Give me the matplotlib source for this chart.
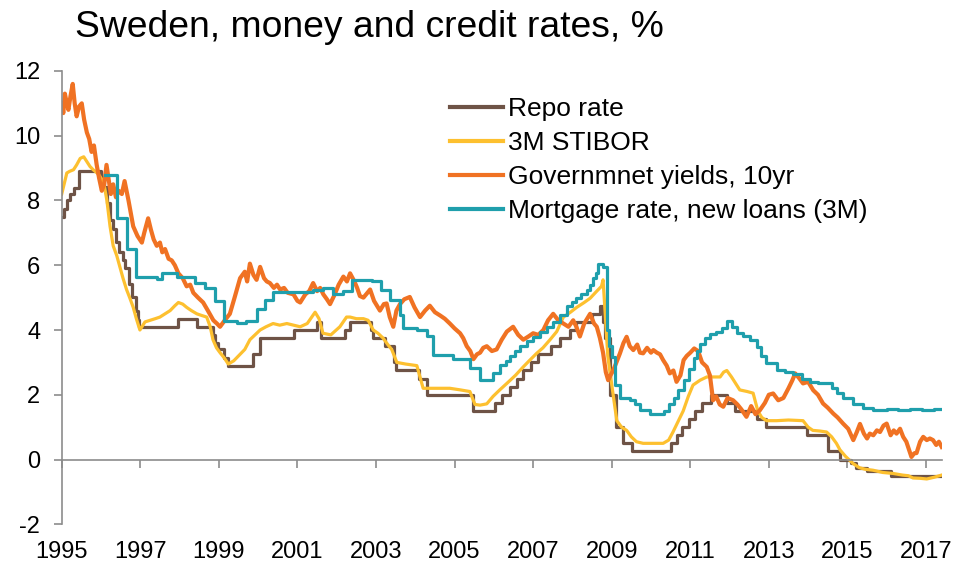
import matplotlib
matplotlib.use('Agg')
import matplotlib.pyplot as plt

plt.rcParams['font.family'] = ['Liberation Sans', 'DejaVu Sans']

# Repo rate, step changes (decimal year, %)
repo_t = [1995.0, 1995.07, 1995.13, 1995.2, 1995.3, 1995.45,
          1996.0, 1996.08, 1996.15, 1996.22, 1996.3, 1996.37, 1996.45, 1996.55,
          1996.62, 1996.7, 1996.8, 1996.88, 1996.93, 1996.97,
          1997.95, 1998.45, 1998.85, 1998.9, 1998.97, 1999.12, 1999.23,
          1999.88, 2000.05, 2000.9, 2001.49, 2001.6, 2002.22, 2002.33, 2002.87,
          2002.93, 2003.22, 2003.45, 2003.5, 2004.1, 2004.3, 2005.47,
          2006.03, 2006.2, 2006.4, 2006.6, 2006.75, 2006.95, 2007.12, 2007.45,
          2007.68, 2007.95, 2008.1, 2008.5, 2008.7, 2008.78, 2008.83, 2008.95,
          2009.12, 2009.3, 2009.52, 2010.52, 2010.67, 2010.8, 2010.96, 2011.13,
          2011.3, 2011.52, 2011.93, 2012.13, 2012.69, 2012.94, 2013.96, 2014.5,
          2014.8, 2015.1, 2015.22, 2015.5, 2016.12, 2017.4]
repo_v = [7.5, 7.75, 8.0, 8.2, 8.4, 8.9,
          8.66, 8.41, 7.91, 7.41, 7.11, 6.71, 6.41, 6.16,
          5.91, 5.41, 5.01, 4.6, 4.3, 4.1,
          4.35, 4.1, 3.85, 3.6, 3.4, 3.15, 2.9,
          3.25, 3.75, 4.0, 4.25, 3.75, 4.0, 4.25, 4.0,
          3.75, 3.5, 3.0, 2.75, 2.5, 2.0, 1.5,
          1.75, 2.0, 2.25, 2.5, 2.75, 3.0, 3.25, 3.5,
          3.75, 4.0, 4.25, 4.5, 4.75, 4.25, 3.75, 2.0,
          1.0, 0.5, 0.25, 0.5, 0.75, 1.0, 1.25, 1.5,
          1.75, 2.0, 1.75, 1.5, 1.25, 1.0, 0.75, 0.25,
          0.0, -0.1, -0.25, -0.35, -0.5, -0.5]

# 3M STIBOR
stibor_t = [1995.0, 1995.06, 1995.13, 1995.2, 1995.3, 1995.38, 1995.47, 1995.56,
            1995.64, 1995.72, 1995.8, 1995.9, 1995.97, 1996.07, 1996.15, 1996.23,
            1996.31, 1996.4, 1996.48, 1996.56, 1996.65, 1996.73, 1996.82, 1996.9,
            1996.99, 1997.12, 1997.25, 1997.38, 1997.5, 1997.63, 1997.76, 1997.88,
            1997.97, 1998.08, 1998.18, 1998.3, 1998.44, 1998.56, 1998.69, 1998.78,
            1998.85, 1998.94, 1999.03, 1999.13, 1999.24, 1999.38, 1999.54, 1999.66,
            1999.79, 1999.92, 2000.05, 2000.2, 2000.38, 2000.55, 2000.73, 2000.9,
            2001.07, 2001.25, 2001.45, 2001.55, 2001.65, 2001.85, 2002.08, 2002.25,
            2002.34, 2002.5, 2002.68, 2002.8, 2002.93, 2003.05, 2003.18, 2003.3,
            2003.4, 2003.53, 2003.75, 2004.04, 2004.12, 2004.2, 2004.5, 2004.88,
            2005.15, 2005.39, 2005.52, 2005.65, 2005.82, 2005.98, 2006.15, 2006.33,
            2006.55, 2006.74, 2006.9, 2007.09, 2007.25, 2007.43, 2007.6, 2007.77,
            2007.95, 2008.11, 2008.3, 2008.45, 2008.62, 2008.74, 2008.78, 2008.83,
            2008.9, 2008.95, 2009.05, 2009.13, 2009.25, 2009.38, 2009.5, 2009.63,
            2009.8, 2009.97, 2010.15, 2010.31, 2010.45, 2010.56, 2010.7, 2010.82,
            2010.95, 2011.07, 2011.25, 2011.42, 2011.6, 2011.76, 2011.85, 2011.93,
            2012.05, 2012.26, 2012.45, 2012.6, 2012.72, 2012.82, 2012.94, 2013.2,
            2013.5, 2013.87, 2014.0, 2014.12, 2014.3, 2014.47, 2014.6, 2014.72,
            2014.81, 2014.95, 2015.14, 2015.3, 2015.45, 2015.65, 2015.9, 2016.16,
            2016.4, 2016.55, 2016.67, 2016.85, 2017.02, 2017.2, 2017.4]
stibor_v = [8.2, 8.5, 8.85, 8.9, 8.95, 9.1, 9.3, 9.35,
            9.2, 9.05, 8.95, 8.85, 8.75, 8.55, 8.0, 7.2,
            6.6, 6.3, 5.95, 5.6, 5.25, 5.0, 4.7, 4.35,
            4.0, 4.25, 4.3, 4.35, 4.4, 4.5, 4.6, 4.75,
            4.85, 4.8, 4.7, 4.6, 4.5, 4.45, 4.4, 4.1,
            3.7, 3.45, 3.3, 3.15, 2.95, 3.05, 3.25, 3.4,
            3.7, 3.85, 4.0, 4.1, 4.2, 4.15, 4.2, 4.15,
            4.1, 4.2, 4.55, 4.35, 3.9, 3.85, 4.1, 4.4,
            4.4, 4.35, 4.35, 4.3, 4.0, 3.9, 3.75, 3.55,
            3.4, 3.0, 2.95, 2.9, 2.55, 2.2, 2.2, 2.2,
            2.15, 2.1, 1.7, 1.68, 1.72, 1.95, 2.15, 2.35,
            2.6, 2.85, 3.05, 3.28, 3.45, 3.7, 3.95, 4.4,
            4.55, 4.7, 4.85, 4.98, 5.2, 5.35, 5.55, 4.6,
            3.2, 2.75, 1.9, 1.2, 1.0, 0.9, 0.7, 0.55,
            0.5, 0.5, 0.5, 0.5, 0.6, 0.85, 1.2, 1.5,
            1.95, 2.3, 2.45, 2.55, 2.55, 2.55, 2.7, 2.75,
            2.55, 2.15, 2.1, 2.05, 1.5, 1.3, 1.2, 1.2,
            1.22, 1.2, 1.0, 0.9, 0.88, 0.85, 0.7, 0.5,
            0.3, 0.1, -0.12, -0.25, -0.3, -0.33, -0.4, -0.43,
            -0.48, -0.5, -0.57, -0.58, -0.6, -0.55, -0.48]

# Government yields, 10yr
gov_t = [1995.0, 1995.04, 1995.08, 1995.13, 1995.17, 1995.22, 1995.28, 1995.33,
         1995.38, 1995.44, 1995.51, 1995.57, 1995.64, 1995.7, 1995.76, 1995.82,
         1995.89, 1995.95, 1996.02, 1996.08, 1996.14, 1996.19, 1996.25, 1996.31,
         1996.38, 1996.45, 1996.53, 1996.6, 1996.7, 1996.76, 1996.82, 1996.93,
         1997.04, 1997.1, 1997.2, 1997.27, 1997.34, 1997.42, 1997.5, 1997.56,
         1997.63, 1997.72, 1997.8, 1997.88, 1997.97, 1998.08, 1998.18, 1998.27,
         1998.35, 1998.47, 1998.6, 1998.72, 1998.86, 1998.95, 1999.03, 1999.15,
         1999.28, 1999.4, 1999.54, 1999.66, 1999.72, 1999.79, 1999.88, 1999.96,
         2000.05, 2000.15, 2000.22, 2000.3, 2000.4, 2000.48, 2000.56, 2000.66,
         2000.75, 2000.9, 2001.0, 2001.07, 2001.2, 2001.3, 2001.4, 2001.5,
         2001.58, 2001.66, 2001.75, 2001.83, 2001.95, 2002.05, 2002.17, 2002.26,
         2002.34, 2002.45, 2002.52, 2002.59, 2002.68, 2002.85, 2002.95, 2003.1,
         2003.2, 2003.27, 2003.35, 2003.44, 2003.52, 2003.61, 2003.72, 2003.86,
         2003.98, 2004.12, 2004.25, 2004.37, 2004.5, 2004.63, 2004.75, 2004.88,
         2005.0, 2005.14, 2005.22, 2005.31, 2005.4, 2005.48, 2005.57, 2005.65,
         2005.73, 2005.82, 2005.95, 2006.07, 2006.2, 2006.33, 2006.49, 2006.62,
         2006.75, 2006.88, 2007.0, 2007.13, 2007.26, 2007.38, 2007.51, 2007.64,
         2007.77, 2007.9, 2008.02, 2008.1, 2008.19, 2008.3, 2008.45, 2008.55,
         2008.62, 2008.7, 2008.78, 2008.85, 2008.91, 2008.97, 2009.04, 2009.12,
         2009.21, 2009.3, 2009.38, 2009.46, 2009.55, 2009.65, 2009.72, 2009.8,
         2009.9, 2010.0, 2010.06, 2010.15, 2010.23, 2010.31, 2010.4, 2010.48,
         2010.57, 2010.65, 2010.75, 2010.83, 2010.91, 2011.0, 2011.1, 2011.2,
         2011.3, 2011.42, 2011.5, 2011.58, 2011.66, 2011.75, 2011.84, 2011.95,
         2012.09, 2012.2, 2012.3, 2012.43, 2012.55, 2012.66, 2012.77, 2012.9,
         2013.0, 2013.11, 2013.24, 2013.37, 2013.5, 2013.6, 2013.67, 2013.78,
         2013.87, 2014.0, 2014.13, 2014.25, 2014.38, 2014.5, 2014.64, 2014.75,
         2014.89, 2015.02, 2015.15, 2015.24, 2015.32, 2015.42, 2015.5, 2015.57,
         2015.66, 2015.75, 2015.83, 2015.92, 2016.0, 2016.1, 2016.18, 2016.25,
         2016.34, 2016.42, 2016.5, 2016.57, 2016.63, 2016.7, 2016.76, 2016.85,
         2016.93, 2017.02, 2017.1, 2017.18, 2017.26, 2017.33, 2017.4]
gov_v = [11.0, 10.7, 11.3, 11.0, 10.8, 11.2, 11.6, 11.0,
         10.6, 10.9, 11.0, 10.5, 10.1, 9.9, 9.5, 9.7,
         9.1, 8.7, 8.3, 8.5, 9.1, 8.7, 8.2, 8.5,
         8.1, 8.3, 8.2, 8.6, 8.0, 7.6, 7.2, 6.9,
         6.7, 7.0, 7.45, 7.1, 6.8, 6.6, 6.7, 6.4,
         6.5, 6.2, 6.15, 6.0, 5.75, 5.6, 5.35, 5.4,
         5.15, 5.0, 4.85, 4.6, 4.3, 4.2, 4.1, 4.3,
         4.5, 5.0, 5.6, 5.8, 5.5, 6.05, 5.7, 5.55,
         5.95, 5.6, 5.5, 5.45, 5.3, 5.4, 5.25, 5.3,
         5.15, 5.1, 4.9, 4.85, 5.1, 5.2, 5.45, 5.2,
         5.3, 5.1, 4.95, 4.8, 5.1, 5.4, 5.65, 5.5,
         5.75, 5.5, 5.3, 5.05, 5.0, 5.25, 4.9, 4.6,
         4.8, 4.82, 4.4, 4.1, 4.6, 4.8, 4.95, 5.02,
         4.7, 4.4, 4.6, 4.75, 4.55, 4.45, 4.35, 4.2,
         4.05, 3.9, 3.75, 3.5, 3.35, 3.1, 3.25, 3.3,
         3.45, 3.5, 3.35, 3.4, 3.7, 3.95, 4.1, 3.85,
         3.7, 3.8, 3.9, 3.85, 4.0, 4.3, 4.5, 4.3,
         4.2, 4.1, 4.3, 4.1, 3.8, 4.2, 4.5, 4.2,
         4.1, 3.75, 3.3, 2.7, 2.45, 2.6, 2.76, 3.0,
         3.28, 3.6, 3.79, 3.5, 3.38, 3.55, 3.3, 3.28,
         3.45, 3.3, 3.38, 3.3, 3.25, 3.07, 2.9, 2.66,
         2.75, 2.4, 2.6, 3.07, 3.2, 3.3, 3.43, 3.35,
         3.0, 2.86, 2.6, 1.83, 1.95, 1.7, 1.63, 1.9,
         1.83, 1.7, 1.55, 1.32, 1.65, 1.4, 1.52, 1.75,
         2.0, 2.04, 1.83, 1.9, 2.2, 2.45, 2.66, 2.5,
         2.35, 2.4, 2.14, 2.0, 1.73, 1.6, 1.42, 1.3,
         1.11, 0.95, 0.6, 0.85, 1.1, 0.8, 0.65, 0.8,
         0.75, 0.9, 0.85, 1.05, 1.11, 0.75, 0.9, 0.8,
         0.95, 0.7, 0.55, 0.3, 0.08, 0.19, 0.2, 0.55,
         0.7, 0.6, 0.65, 0.6, 0.45, 0.55, 0.39]

# Mortgage rate, new loans (3M), step series
mort_t = [1996.1, 1996.4, 1996.65, 1996.9, 1997.42, 1997.55, 1997.93, 1998.39,
          1998.65, 1998.9, 1999.12, 1999.45, 1999.7, 1999.96, 2000.17, 2000.38,
          2001.4, 2001.65, 2001.9, 2002.15, 2002.38, 2002.89, 2003.14, 2003.36,
          2003.61, 2003.69, 2004.04, 2004.29, 2004.45, 2004.96, 2005.39, 2005.65,
          2005.98, 2006.16, 2006.3, 2006.41, 2006.55, 2006.67, 2006.85, 2007.0,
          2007.18, 2007.35, 2007.5, 2007.68, 2007.85, 2008.0, 2008.1, 2008.23,
          2008.36, 2008.45, 2008.52, 2008.6, 2008.65, 2008.78, 2008.87, 2008.93,
          2009.0, 2009.08, 2009.21, 2009.47, 2009.6, 2009.73, 2009.98, 2010.33,
          2010.46, 2010.58, 2010.7, 2010.84, 2010.97, 2011.1, 2011.18, 2011.26,
          2011.38, 2011.5, 2011.65, 2011.8, 2011.94, 2012.05, 2012.18, 2012.35,
          2012.52, 2012.69, 2012.8, 2012.94, 2013.2, 2013.4, 2013.62, 2013.85,
          2014.05, 2014.25, 2014.47, 2014.6, 2014.73, 2014.9, 2015.14, 2015.4,
          2015.65, 2016.0, 2016.3, 2016.6, 2016.9, 2017.2, 2017.36]
mort_v = [8.8, 7.45, 6.5, 5.65, 5.58, 5.75, 5.65, 5.45,
          5.3, 4.9, 4.28, 4.23, 4.28, 4.65, 4.92, 5.18,
          5.25, 5.3, 5.1, 5.2, 5.55, 5.5, 5.23, 4.92,
          4.45, 4.06, 4.0, 3.8, 3.22, 3.12, 2.82, 2.45,
          2.66, 2.91, 3.05, 3.2, 3.35, 3.5, 3.65, 3.78,
          3.95, 4.1, 4.25, 4.45, 4.75, 4.85, 4.98, 5.1,
          5.23, 5.4, 5.6, 5.75, 6.05, 5.95, 4.0, 3.5,
          3.17, 2.3, 1.9, 1.85, 1.7, 1.52, 1.42, 1.5,
          1.7, 1.9, 2.15, 2.45, 2.8, 3.15, 3.35, 3.58,
          3.75, 3.88, 3.95, 4.06, 4.28, 4.1, 3.9, 3.8,
          3.7, 3.48, 3.2, 2.97, 2.76, 2.7, 2.63, 2.5,
          2.4, 2.37, 2.35, 2.2, 2.04, 1.9, 1.73, 1.6,
          1.52, 1.55, 1.52, 1.56, 1.53, 1.57, 1.57]

labels = ['Repo rate', '3M STIBOR', 'Governmnet yields, 10yr', 'Mortgage rate, new loans (3M)']
colors = ['#6E5346', '#FDC02F', '#F07223', '#1F9FAC']
year_ticks = list(range(1995, 2018, 2))
y_ticks = list(range(-2, 13, 2))

fig = plt.figure(figsize=(9.57, 5.66), dpi=100)
ax = fig.add_axes([0.0645, 0.0737, 0.9195, 0.8009])

ax.step(repo_t, repo_v, where='post', color=colors[0], lw=2.3, label=labels[0])
ax.plot(stibor_t, stibor_v, color=colors[1], lw=2.3, label=labels[1])
ax.plot(gov_t, gov_v, color=colors[2], lw=3.0, label=labels[2])
ax.step(mort_t, mort_v, where='post', color=colors[3], lw=2.3, label=labels[3])

ax.set_xlim(1995.0, 2017.4)
ax.set_ylim(-2, 12)

axis_grey = '#8C8C8C'
for s in ['top', 'right']:
    ax.spines[s].set_visible(False)
ax.spines['bottom'].set_position(('data', 0))
ax.spines['bottom'].set_color(axis_grey)
ax.spines['left'].set_color(axis_grey)
ax.spines['bottom'].set_linewidth(1.2)
ax.spines['left'].set_linewidth(1.2)

ax.set_xticks(year_ticks)
ax.set_xticklabels([str(y) for y in year_ticks])
ax.set_yticks(y_ticks)
ax.set_yticklabels([str(v) for v in y_ticks])
ax.tick_params(axis='x', direction='out', length=5.5, width=1.2, color=axis_grey,
               labelsize=17, pad=53.5)
ax.tick_params(axis='y', direction='out', length=5.5, width=1.2, color=axis_grey,
               labelsize=17, pad=10)

leg = ax.legend(loc='upper left', bbox_to_anchor=(450 / 957, 1 - 97 / 566),
                bbox_transform=fig.transFigure, frameon=False, fontsize=19,
                handlelength=2.0, handletextpad=0.18, labelspacing=0.38,
                borderpad=0, borderaxespad=0)
for line in leg.get_lines():
    line.set_linewidth(3)

fig.text(75 / 957, 1 - 37 / 566, 'Sweden, money and credit rates, %', fontsize=26.8,
         ha='left', va='baseline')

fig.savefig('out.png', dpi=100)
